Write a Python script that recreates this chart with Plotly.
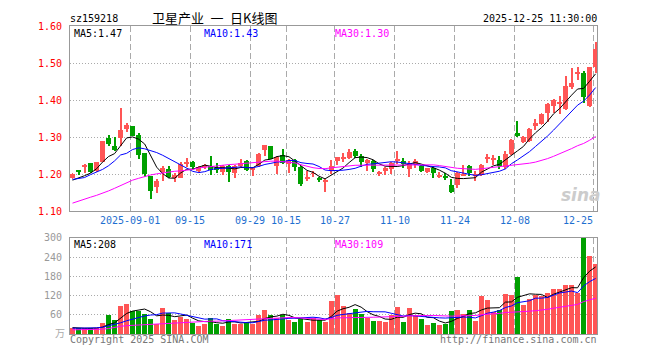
import numpy as np
import pandas as pd
import plotly.graph_objects as go

# ---------------- data ----------------
tick_idx = [10, 20, 30, 36, 44, 54, 64, 74, 87]
tick_labels = ['2025-09-01', '09-15', '09-29', '10-15', '10-27', '11-10', '11-24', '12-08', '12-25']

open_ = [1.189, 1.208, 1.219, 1.229, 1.208, 1.234, 1.297, 1.275, 1.297, 1.321,
         1.330, 1.307, 1.257, 1.195, 1.165, 1.206, 1.215, 1.189, 1.191, 1.228,
         1.232, 1.209, 1.219, 1.221, 1.217, 1.206, 1.223, 1.202, 1.221, 1.235,
         1.212, 1.223, 1.265, 1.275, 1.221, 1.252, 1.228, 1.239, 1.219, 1.188,
         1.201, 1.191, 1.182, 1.209, 1.237, 1.242, 1.245, 1.262, 1.249, 1.230,
         1.236, 1.203, 1.209, 1.215, 1.237, 1.236, 1.214, 1.228, 1.223, 1.205,
         1.217, 1.193, 1.194, 1.171, 1.170, 1.197, 1.222, 1.196, 1.197, 1.244,
         1.239, 1.239, 1.219, 1.255, 1.312, 1.286, 1.290, 1.330, 1.336, 1.366,
         1.383, 1.391, 1.377, 1.435, 1.471, 1.474, 1.385, 1.489]
close = [1.201, 1.207, 1.226, 1.206, 1.234, 1.291, 1.282, 1.265, 1.320, 1.332,
         1.304, 1.252, 1.200, 1.156, 1.183, 1.217, 1.193, 1.197, 1.228, 1.232,
         1.219, 1.219, 1.225, 1.212, 1.212, 1.221, 1.206, 1.221, 1.231, 1.212,
         1.217, 1.254, 1.278, 1.242, 1.247, 1.230, 1.239, 1.219, 1.174, 1.190,
         1.203, 1.187, 1.183, 1.223, 1.247, 1.244, 1.260, 1.249, 1.232, 1.239,
         1.215, 1.205, 1.217, 1.229, 1.238, 1.228, 1.228, 1.235, 1.208, 1.216,
         1.202, 1.195, 1.193, 1.152, 1.202, 1.199, 1.202, 1.198, 1.226, 1.246,
         1.241, 1.222, 1.255, 1.293, 1.304, 1.301, 1.323, 1.338, 1.362, 1.390,
         1.401, 1.393, 1.437, 1.446, 1.473, 1.409, 1.489, 1.538]
high = [1.204, 1.212, 1.227, 1.230, 1.234, 1.291, 1.305, 1.301, 1.379, 1.338,
        1.331, 1.310, 1.258, 1.196, 1.186, 1.222, 1.223, 1.202, 1.232, 1.245,
        1.236, 1.223, 1.228, 1.249, 1.229, 1.226, 1.226, 1.226, 1.241, 1.238,
        1.219, 1.257, 1.280, 1.275, 1.249, 1.267, 1.241, 1.241, 1.223, 1.210,
        1.210, 1.192, 1.186, 1.238, 1.247, 1.258, 1.267, 1.268, 1.254, 1.241,
        1.238, 1.210, 1.219, 1.232, 1.262, 1.243, 1.236, 1.241, 1.224, 1.218,
        1.221, 1.206, 1.202, 1.187, 1.206, 1.225, 1.226, 1.210, 1.228, 1.255,
        1.251, 1.249, 1.262, 1.295, 1.343, 1.304, 1.325, 1.349, 1.366, 1.392,
        1.403, 1.411, 1.466, 1.487, 1.489, 1.479, 1.489, 1.558]
low = [1.186, 1.199, 1.204, 1.204, 1.205, 1.232, 1.275, 1.263, 1.275, 1.314,
       1.302, 1.240, 1.192, 1.133, 1.150, 1.183, 1.190, 1.180, 1.190, 1.219,
       1.213, 1.202, 1.215, 1.197, 1.202, 1.197, 1.178, 1.191, 1.219, 1.210,
       1.195, 1.219, 1.248, 1.241, 1.200, 1.228, 1.202, 1.210, 1.169, 1.181,
       1.193, 1.178, 1.152, 1.200, 1.224, 1.232, 1.241, 1.245, 1.219, 1.210,
       1.206, 1.196, 1.197, 1.200, 1.228, 1.217, 1.193, 1.217, 1.206, 1.203,
       1.189, 1.189, 1.184, 1.150, 1.163, 1.194, 1.195, 1.183, 1.194, 1.229,
       1.226, 1.215, 1.215, 1.253, 1.301, 1.284, 1.287, 1.319, 1.332, 1.340,
       1.366, 1.362, 1.373, 1.431, 1.453, 1.392, 1.382, 1.472]
volume = [19, 19, 18, 18, 19, 34, 59, 44, 89, 94,
          71, 71, 64, 46, 31, 83, 67, 43, 53, 49,
          34, 26, 31, 52, 33, 26, 46, 33, 33, 39,
          32, 61, 76, 59, 51, 61, 43, 38, 46, 37,
          51, 44, 37, 103, 121, 89, 66, 79, 64, 51,
          40, 40, 38, 59, 85, 38, 82, 61, 49, 29,
          34, 29, 31, 73, 76, 64, 76, 40, 118, 106,
          70, 76, 127, 121, 178, 91, 109, 121, 118, 130,
          142, 142, 154, 154, 128, 299, 244, 220]

# moving-average values at the start of the window (read from the picture,
# they depend on days before the visible range)
ma5_head = [1.184, 1.189, 1.196, 1.203]
ma10_head = [1.186, 1.188, 1.191, 1.199, 1.206, 1.213, 1.223, 1.236, 1.252]
ma30_head = [1.122, 1.128, 1.134, 1.138, 1.143, 1.148, 1.155, 1.162, 1.170, 1.177,
             1.184, 1.189, 1.194, 1.198, 1.201, 1.204, 1.206, 1.208, 1.209, 1.210,
             1.213, 1.217, 1.219, 1.221, 1.222, 1.224, 1.226, 1.227, 1.228]
vma5_head = [20, 18, 18, 18]
vma10_head = [18, 18, 18, 18, 19, 21, 25, 29, 35]
vma30_head = [13, 13, 13, 13, 14, 15, 17, 21, 24, 26,
              27, 28, 29, 31, 32, 34, 35, 35, 36, 37,
              38, 38, 39, 40, 40, 41, 42, 42, 43]

# ---------------- derived ----------------
o = np.array(open_); c = np.array(close); h = np.array(high); l = np.array(low)
v = np.array(volume, dtype=float)
n = len(c)
idx = np.arange(n)


def ma(series, w, head):
    m = pd.Series(series).rolling(w).mean().to_numpy()
    m[:len(head)] = head
    return m


ma5 = ma(c, 5, ma5_head); ma10 = ma(c, 10, ma10_head); ma30 = ma(c, 30, ma30_head)
vma5 = ma(v, 5, vma5_head); vma10 = ma(v, 10, vma10_head); vma30 = ma(v, 30, vma30_head)

RED = '#ff5555'
GREEN = '#00a000'
up = c >= o
colors = np.where(up, RED, GREEN)
min_h = 0.0026
body_h = np.maximum(np.abs(c - o), min_h)
body_base = np.where(np.abs(c - o) < min_h, (c + o) / 2 - min_h / 2, np.minimum(o, c))

# ---------------- geometry ----------------
# the page has an 8px body margin, so the figure is drawn at (8, 8)
OFF = 8
W, H = 644, 344
L, T = 70 - OFF, 20 - OFF
R = W - (597 - OFF)
B = H - (340 - OFF)
PW = W - L - R
PH = H - T - B
XR = [-0.416, 87.23]


def px(xp):  # screenshot pixel -> paper
    return (xp - OFF - L) / PW


def py(yp):
    return (H - B - (yp - OFF)) / PH


MONO = 'DejaVu Sans Mono, Liberation Mono, monospace'
CJK = 'Noto Sans CJK SC, sans-serif'

fig = go.Figure()
# candles
fig.add_trace(go.Bar(x=idx, y=h - l, base=l, width=0.166,
                     marker=dict(color=colors, line=dict(width=0)),
                     xaxis='x', yaxis='y', hoverinfo='skip'))
fig.add_trace(go.Bar(x=idx, y=body_h, base=body_base, width=0.83,
                     marker=dict(color=colors, line=dict(width=0)),
                     xaxis='x', yaxis='y', hoverinfo='skip'))
for arr, col in [(ma5, 'black'), (ma10, '#0000ff'), (ma30, '#ff00ff')]:
    fig.add_trace(go.Scatter(x=idx, y=arr, mode='lines', line=dict(color=col, width=1),
                             xaxis='x', yaxis='y', hoverinfo='skip'))
# volume
fig.add_trace(go.Bar(x=idx, y=v, width=0.83,
                     marker=dict(color=colors, line=dict(width=0)),
                     xaxis='x2', yaxis='y2', hoverinfo='skip'))
for arr, col in [(vma5, 'black'), (vma10, '#0000ff'), (vma30, '#ff00ff')]:
    fig.add_trace(go.Scatter(x=idx, y=arr, mode='lines', line=dict(color=col, width=1),
                             xaxis='x2', yaxis='y2', hoverinfo='skip'))

grid_x = [i - 0.416 for i in tick_idx]
xcommon = dict(range=XR, tickvals=grid_x, showticklabels=False, showgrid=True,
               gridcolor='#aaaaaa', griddash='6px,3px', gridwidth=1,
               showline=True, mirror=True, linecolor='#999999', linewidth=1,
               zeroline=False, ticks='', fixedrange=True)

main_bottom = py(212.5)
vol_top = py(240)

fig.update_layout(
    width=W, height=H, autosize=False,
    margin=dict(l=L, r=R, t=T, b=B, pad=0),
    paper_bgcolor='white', plot_bgcolor='white',
    showlegend=False, barmode='overlay', bargap=0,
    xaxis=dict(domain=[0, 1], anchor='y', **xcommon),
    xaxis2=dict(domain=[0, 1], anchor='y2', matches='x', **xcommon),
    yaxis=dict(domain=[main_bottom, 1], range=[1.10, 1.60],
               tickvals=[1.1, 1.2, 1.3, 1.4, 1.5, 1.6],
               ticktext=['1.10', '1.20', '1.30', '1.40', '1.50', '1.60'],
               tickfont=dict(family=MONO, size=10, color='#ff0000'),
               ticklabelstandoff=5,
               showgrid=True, gridcolor='#aaaaaa', griddash='1px,2px',
               showline=True, mirror=True, linecolor='#999999', zeroline=False,
               ticks='', fixedrange=True),
    yaxis2=dict(domain=[0, vol_top], range=[0, 300],
                tickvals=[60, 120, 180, 240, 300],
                ticktext=['60', '120', '180', '240', '300'],
                tickfont=dict(family=MONO, size=10, color='#999999'),
                ticklabelstandoff=5,
                showgrid=True, gridcolor='#aaaaaa', griddash='1px,2px',
                showline=True, mirror=True, linecolor='#999999', zeroline=False,
                ticks='', fixedrange=True),
)

ann = []


def text(x, y, s, color='black', size=10, family=MONO, xanchor='left', **kw):
    ann.append(dict(x=px(x), y=py(y), xref='paper', yref='paper', text=s,
                    showarrow=False, xanchor=xanchor, yanchor='middle',
                    borderpad=0,
                    font=dict(family=family, size=size, color=color), **kw))


# x tick labels
for i, lab in zip(tick_idx, tick_labels):
    xp = 70 + (i - 0.416 - XR[0]) / (XR[1] - XR[0]) * PW
    if i == tick_idx[-1]:
        text(xp + 1, 222, lab, color='#1e6fd0', xanchor='right')
    else:
        text(xp, 222, lab, color='#1e6fd0', xanchor='center')

# header
text(69, 12.5, 'sz159218')
text(214, 11.5, '卫星产业\u2002一\u2002日K线图', size=13, family=CJK, xanchor='center')
text(598, 12.5, '2025-12-25 11:30:00', xanchor='right')

# MA legends
text(73, 28, 'MA5:1.47')
text(203, 28, 'MA10:1.43', color='#0000ff')
text(334, 28, 'MA30:1.30', color='#ff00ff')
text(73, 247, 'MA5:208')
text(203, 247, 'MA10:171', color='#0000ff')
text(334, 247, 'MA30:109', color='#ff00ff')

# footer
text(69, 346, 'Copyright 2025 SINA.COM', color='#777777')
text(598, 346, 'http://finance.sina.com.cn', color='#777777', xanchor='right')
text(66, 338, '万', color='#aaaaaa', size=10, family=CJK, xanchor='right')

# watermark
text(581, 196, '<b><i>sina</i></b>', color='#cccccc', size=17,
     family='DejaVu Sans, sans-serif', xanchor='center')

fig.update_layout(annotations=ann)
fig.write_html('out.html')
